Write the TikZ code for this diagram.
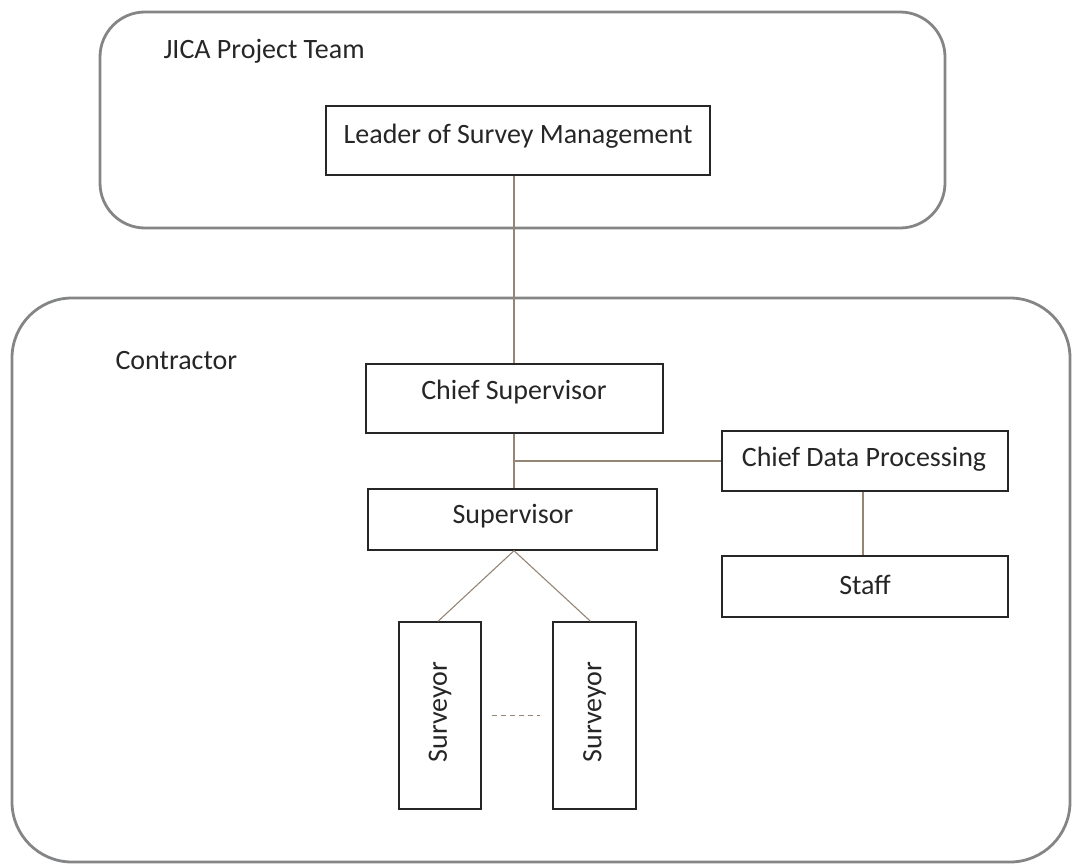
\documentclass[tikz,border=0pt]{standalone}
\usepackage{fontspec}
\setmainfont{Carlito}
\begin{document}
\begin{tikzpicture}[x=1pt,y=-1pt,
  every node/.style={text=black!85},
  box/.style={draw=black!85,line width=1.4pt,fill=white,inner sep=0pt},
  group/.style={draw=black!75!cyan!15!gray,line width=2.8pt},
  conn/.style={draw=brown!40!black!60,line width=1.1pt},
  txt/.style={font=\fontsize{28}{30}\selectfont},
  lbl/.style={txt,anchor=west}]
\useasboundingbox (0,0) rectangle (1075,867);
\draw[group,rounded corners=45pt] (100,12) rectangle (945,228);
\draw[group,rounded corners=60pt] (12,298) rectangle (1070,862);
\node[lbl] (jica) at (160,51) {JICA Project Team};
\node[lbl] (contr) at (112,361) {Contractor};
\node[box,minimum width=384pt,minimum height=69pt] (leader) at (518,140.5) {};
\node[txt] at (518,136) {Leader of Survey Management};
\node[box,minimum width=297pt,minimum height=69pt] (chief) at (514.5,398.5) {};
\node[txt] at (514,392) {Chief Supervisor};
\node[box,minimum width=289pt,minimum height=61pt] (sup) at (512.5,519.5) {};
\node[txt] at (513,516) {Supervisor};
\node[box,minimum width=286pt,minimum height=60pt] (cdp) at (865,461) {};
\node[txt] at (864,459) {Chief Data Processing};
\node[box,minimum width=286pt,minimum height=61pt] (staff) at (865,586.5) {};
\node[txt] at (865,585) {Staff};
\node[box,minimum width=82pt,minimum height=187pt] (s1) at (440,715.5) {};
\node[txt,rotate=90] at (440,712) {Surveyor};
\node[box,minimum width=83pt,minimum height=187pt] (s2) at (594.5,715.5) {};
\node[txt,rotate=90] at (594.5,712) {Surveyor};
\coordinate (j) at (514,461);
\draw[conn] (leader.south -| j) -- (chief.north -| j);
\draw[conn] (chief.south -| j) -- (sup.north -| j);
\draw[conn] (j) -- (j -| cdp.west);
\draw[conn] (cdp.south -| 863,0) -- (staff.north -| 863,0);
\draw[conn] (sup.south -| j) -- ([xshift=-2pt]s1.north);
\draw[conn] (sup.south -| j) -- ([xshift=-4pt]s2.north);
\draw[conn,dashed,line width=0.8pt,dash pattern=on 5pt off 4pt] ([xshift=10pt]s1.east) -- ([xshift=-12pt]s2.west);
\end{tikzpicture}
\end{document}
